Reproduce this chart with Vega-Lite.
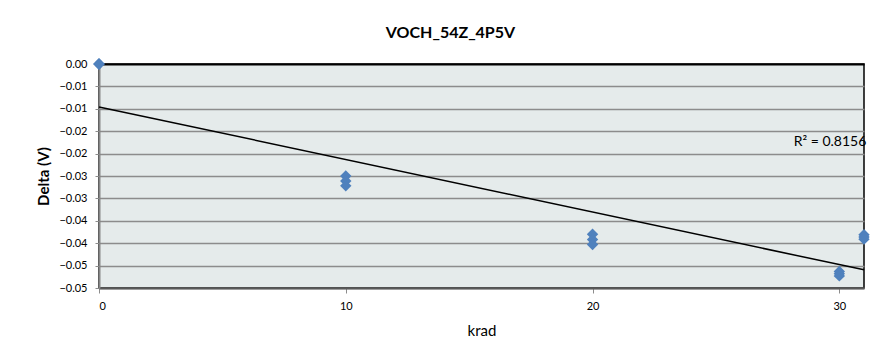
{
  "$schema": "https://vega.github.io/schema/vega-lite/v6.json",
  "width": 765,
  "height": 224,
  "autosize": {"type": "none"},
  "padding": {"left": 99, "top": 64, "right": 18, "bottom": 71},
  "background": "white",
  "title": {
    "text": "VOCH_54Z_4P5V",
    "font": "Lato",
    "fontSize": 16,
    "fontWeight": "bold",
    "color": "#000000",
    "anchor": "middle",
    "dx": -31,
    "baseline": "middle",
    "offset": 9
  },
  "config": {
    "view": {"fill": "#e5ebeb", "stroke": "#000000", "strokeWidth": 1.5},
    "axis": {"labelFont": "Lato", "titleFont": "Lato", "labelColor": "#000000", "titleColor": "#000000", "labelOverlap": false}
  },
  "datasets": {
    "pts": [
      {"krad": 0, "delta": 0},
      {"krad": 0, "delta": 0},
      {"krad": 0, "delta": 0},
      {"krad": 10, "delta": -0.0250},
      {"krad": 10, "delta": -0.0261},
      {"krad": 10, "delta": -0.0272},
      {"krad": 20, "delta": -0.0380},
      {"krad": 20, "delta": -0.0392},
      {"krad": 20, "delta": -0.0403},
      {"krad": 30, "delta": -0.0463},
      {"krad": 30, "delta": -0.0468},
      {"krad": 30, "delta": -0.0473},
      {"krad": 31, "delta": -0.0381},
      {"krad": 31, "delta": -0.0386},
      {"krad": 31, "delta": -0.0391}
    ],
    "trend": [
      {"krad": 0, "delta": -0.00958},
      {"krad": 31, "delta": -0.04595}
    ],
    "r2": [
      {"krad": 28.15, "delta": -0.0174, "label": "R² = 0.8156"}
    ]
  },
  "layer": [
    {
      "data": {"name": "trend"},
      "mark": {"type": "line", "color": "#000000", "strokeWidth": 1.5},
      "encoding": {
        "x": {
          "field": "krad",
          "type": "quantitative",
          "scale": {"domain": [0, 31], "nice": false, "zero": false},
          "axis": {
            "title": "krad",
            "values": [0, 10, 20, 30],
            "tickCount": 4,
            "grid": false,
            "domainColor": "#595959",
            "domainWidth": 2,
            "tickColor": "#8c8c8c",
            "tickSize": 5,
            "tickWidth": 1,
            "labelFontSize": 11,
            "labelPadding": 7,
            "titleFontSize": 15,
            "titleFontWeight": "normal",
            "titleBaseline": "middle",
            "titleY": 42
          }
        },
        "y": {
          "field": "delta",
          "type": "quantitative",
          "scale": {"domain": [-0.05, 0], "nice": false, "zero": false},
          "axis": {
            "title": "Delta (V)",
            "values": [0, -0.005, -0.01, -0.015, -0.02, -0.025, -0.03, -0.035, -0.04, -0.045, -0.05],
            "tickCount": 11,
            "labelExpr": "datum.value == 0 ? '0.00' : format(datum.value - 1e-9, '.2f')",
            "grid": true,
            "gridColor": {"condition": {"test": "datum.value == 0", "value": "#000000"}, "value": "#8c8c8c"},
            "gridWidth": {"condition": {"test": "datum.value == 0", "value": 2}, "value": 1.5},
            "domainColor": "#868686",
            "domainWidth": 2,
            "tickColor": "#8c8c8c",
            "tickSize": 4,
            "tickWidth": 1,
            "labelFontSize": 11,
            "labelPadding": 8,
            "titleFontSize": 15,
            "titleFontWeight": "bold",
            "titleBaseline": "middle",
            "titleX": -56,
            "titleY": 112
          }
        }
      }
    },
    {
      "data": {"name": "pts"},
      "mark": {"type": "point", "shape": "diamond", "filled": true, "size": 130, "color": "#4f81bd", "opacity": 1, "clip": false},
      "encoding": {
        "x": {"field": "krad", "type": "quantitative"},
        "y": {"field": "delta", "type": "quantitative"}
      }
    },
    {
      "data": {"name": "r2"},
      "mark": {"type": "text", "align": "left", "baseline": "middle", "font": "Lato", "fontSize": 14, "color": "#000000"},
      "encoding": {
        "x": {"field": "krad", "type": "quantitative"},
        "y": {"field": "delta", "type": "quantitative"},
        "text": {"field": "label"}
      }
    }
  ]
}
